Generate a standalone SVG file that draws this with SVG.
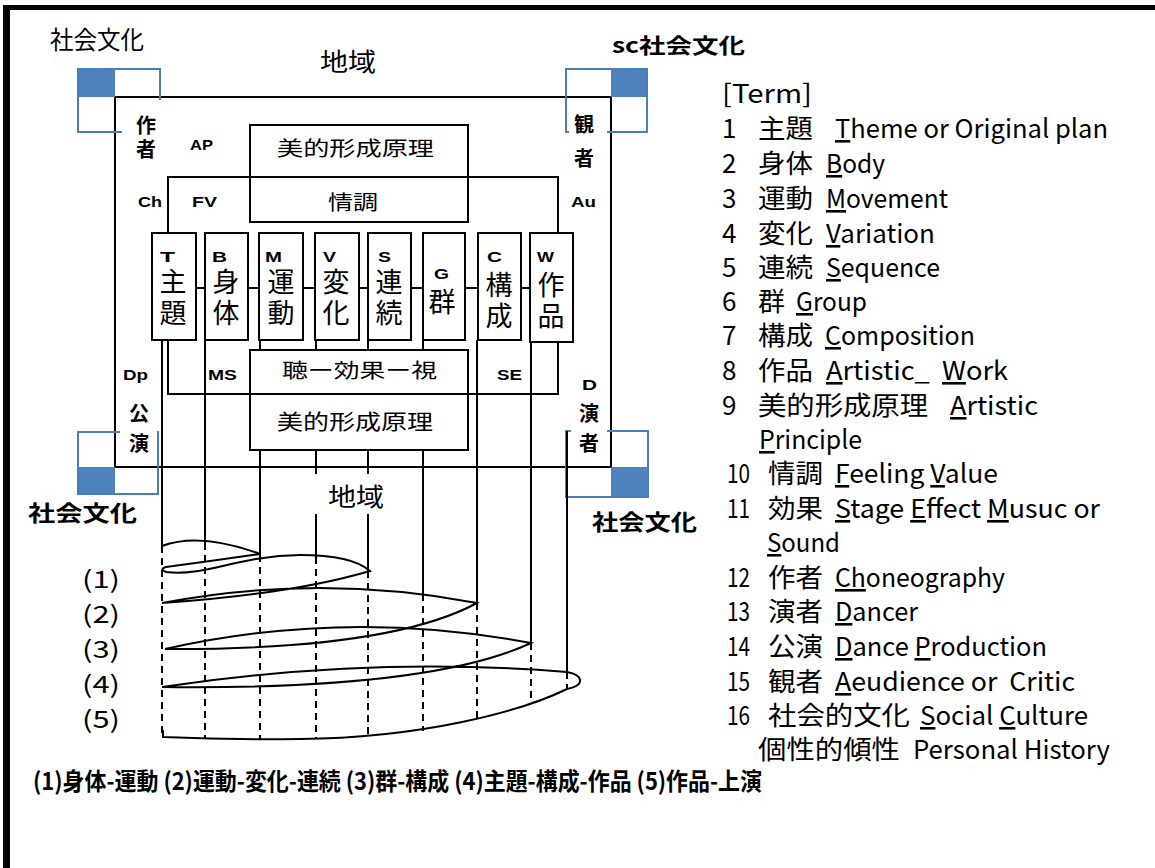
<svg xmlns="http://www.w3.org/2000/svg" width="1155" height="868" viewBox="0 0 1155 868">
<defs>
<style>
.jp{font-family:"Noto Sans CJK JP","Noto Sans",sans-serif;fill:#000}
.b{font-weight:bold}
.lb{font-family:"Liberation Sans",Arial,sans-serif;font-weight:bold;font-size:15px;fill:#000}
.ln{stroke:#000;stroke-width:2;fill:none}
.bx{stroke:#000;stroke-width:2;fill:#fff}
.blue{stroke:#4a7ebb;stroke-width:2;fill:none}
.bf{fill:#4f81bd}
.wh{fill:#fff}
.dash{stroke:#000;stroke-width:2;stroke-dasharray:7 5;fill:none}
.u{text-decoration:underline}
.t{font-family:"Noto Sans CJK JP","Noto Sans",sans-serif;font-size:26px;fill:#000}
.ck{font-family:"Noto Sans CJK JP",sans-serif;font-size:27px;fill:#000;text-anchor:middle}
.cv{font-family:"Noto Sans CJK JP",sans-serif;font-size:27px;fill:#000;writing-mode:vertical-rl;letter-spacing:4px}
.vv{font-family:"Noto Sans CJK JP",sans-serif;font-size:20px;font-weight:bold;fill:#000;writing-mode:vertical-rl}
</style>
</defs>
<rect class="wh" x="0" y="0" width="1155" height="868"/>
<g id="frame">
<rect x="3" y="5" width="1152" height="5" fill="#000"/>
<rect x="3" y="5" width="7" height="863" fill="#000"/>
</g>
<g id="region">
<rect class="bx" x="115" y="97" width="496" height="370"/>
</g>
<g id="corner-tl">
<rect class="bf" x="78" y="69" width="37" height="28"/>
<rect class="blue" x="78" y="69" width="82" height="63"/>
<text class="jp" x="50" y="49" font-size="25" textLength="94" lengthAdjust="spacingAndGlyphs">社会文化</text>
</g>
<g id="corner-tr">
<rect class="bf" x="611" y="69" width="36" height="28"/>
<rect class="blue" x="566" y="69" width="81" height="63"/>
<text class="jp b" x="612" y="53" font-size="21" textLength="133" lengthAdjust="spacingAndGlyphs">sc社会文化</text>
</g>
<g id="corner-bl">
<rect class="bf" x="78" y="467" width="37" height="27"/>
<rect class="blue" x="78" y="432" width="80" height="62"/>
<text class="jp b" x="28" y="521" font-size="22" textLength="109" lengthAdjust="spacingAndGlyphs">社会文化</text>
</g>
<g id="corner-br">
<rect class="bf" x="611" y="467" width="37" height="30"/>
<rect class="blue" x="566" y="431" width="82" height="66"/>
<text class="jp b" x="592" y="530" font-size="22" textLength="105" lengthAdjust="spacingAndGlyphs">社会文化</text>
</g>
<g id="label-covers">
<rect class="wh" x="122" y="100" width="42" height="74"/>
<rect class="wh" x="569" y="100" width="38" height="74"/>
<rect class="wh" x="120" y="398" width="37" height="66"/>
<rect class="wh" x="571" y="398" width="36" height="66"/>
</g>
<g id="chiiki-top">
<text class="jp" x="320" y="71" font-size="25" textLength="56" lengthAdjust="spacingAndGlyphs">地域</text>
</g>
<g id="choreographer">
<text class="vv" x="146" y="115" letter-spacing="4">作者</text>
<text class="lb" x="190" y="150" textLength="23" lengthAdjust="spacingAndGlyphs">AP</text>
<text class="lb" x="138" y="207" textLength="24" lengthAdjust="spacingAndGlyphs">Ch</text>
<text class="lb" x="192" y="207" textLength="25" lengthAdjust="spacingAndGlyphs">FV</text>
</g>
<g id="audience">
<text class="vv" x="584" y="114" letter-spacing="14">観者</text>
<text class="lb" x="571" y="207" textLength="25" lengthAdjust="spacingAndGlyphs">Au</text>
</g>
<g id="production">
<text class="lb" x="123" y="380" textLength="25" lengthAdjust="spacingAndGlyphs">Dp</text>
<text class="vv" x="139" y="403" letter-spacing="10">公演</text>
</g>
<g id="dancer">
<text class="lb" x="582" y="390" textLength="15" lengthAdjust="spacingAndGlyphs">D</text>
<text class="vv" x="589" y="403" letter-spacing="10">演者</text>
</g>
<g id="connectors">
<rect class="ln" x="168" y="177" width="390" height="217"/>
<path class="ln" d="M162,340V546 M205,340V543 M260,340V555 M316,340V557 M368,340V571 M423,340V594 M477,340V603 M531,340V643 M567,431V672"/>
<path class="ln" d="M196,288H205 M248,288H259 M303,288H315 M359,288H368 M411,288H423 M465,288H478 M521,288H530"/>
<path class="dash" d="M162,546V737 M205,543V739 M260,555V739 M316,557V738 M368,571V735 M423,594V731 M477,603V720 M531,643V703 M567,672V689"/>
<path class="ln" d="M162,546 Q200,532 260,554 Q212,561 166,567 Q159,569 166,572 C205,577 236,556 300,555 Q352,555 370,571 Q292,594 162,603 Q320,573 477,603 Q390,650 165,649 Q348,608 531,643 Q430,690 162,687 Q370,656 567,672 C583,675 586,685 567,689 C520,712 420,738 300,739 Q230,740 163,737 L163,730"/>
</g>
<g id="chiiki-bottom">
<rect class="wh" x="308" y="474" width="84" height="40"/>
<text class="jp" x="328" y="506" font-size="25" textLength="56" lengthAdjust="spacingAndGlyphs">地域</text>
</g>
<g id="principle-top">
<rect class="bx" x="250" y="125" width="218" height="52"/>
<text class="jp" x="277" y="156" font-size="20" textLength="157" lengthAdjust="spacingAndGlyphs">美的形成原理</text>
</g>
<g id="feeling">
<rect class="bx" x="250" y="177" width="218" height="45"/>
<text class="jp" x="328" y="210" font-size="20" textLength="50" lengthAdjust="spacingAndGlyphs">情調</text>
</g>
<g id="node-T">
<rect class="bx" x="152" y="233" width="44" height="107"/>
<text class="lb" x="160" y="262" textLength="15" lengthAdjust="spacingAndGlyphs">T</text>
<text class="cv" x="173" y="268">主題</text>
</g>
<g id="node-B">
<rect class="bx" x="205" y="233" width="43" height="107"/>
<text class="lb" x="212" y="262" textLength="15" lengthAdjust="spacingAndGlyphs">B</text>
<text class="cv" x="226" y="268">身体</text>
</g>
<g id="node-M">
<rect class="bx" x="259" y="233" width="44" height="107"/>
<text class="lb" x="265" y="262" textLength="17" lengthAdjust="spacingAndGlyphs">M</text>
<text class="cv" x="281" y="268">運動</text>
</g>
<g id="node-V">
<rect class="bx" x="315" y="233" width="44" height="107"/>
<text class="lb" x="323" y="262" textLength="13" lengthAdjust="spacingAndGlyphs">V</text>
<text class="cv" x="336" y="268">変化</text>
</g>
<g id="node-S">
<rect class="bx" x="368" y="233" width="43" height="107"/>
<text class="lb" x="378" y="262" textLength="13" lengthAdjust="spacingAndGlyphs">S</text>
<text class="cv" x="389" y="268">連続</text>
</g>
<g id="node-G">
<rect class="bx" x="423" y="233" width="42" height="107"/>
<text class="lb" x="434" y="279" textLength="15" lengthAdjust="spacingAndGlyphs">G</text>
<text class="ck" x="442" y="312" font-size="26">群</text>
</g>
<g id="node-C">
<rect class="bx" x="478" y="233" width="43" height="107"/>
<text class="lb" x="487" y="262" textLength="15" lengthAdjust="spacingAndGlyphs">C</text>
<text class="cv" x="499" y="271">構成</text>
</g>
<g id="node-W">
<rect class="bx" x="530" y="233" width="43" height="109"/>
<text class="lb" x="537" y="262" textLength="17" lengthAdjust="spacingAndGlyphs">W</text>
<text class="cv" x="551" y="271">作品</text>
</g>
<g id="effect">
<rect class="bx" x="250" y="350" width="218" height="44"/>
<text class="jp" x="282" y="378" font-size="20" textLength="155" lengthAdjust="spacingAndGlyphs">聴ー効果ー視</text>
<text class="lb" x="208" y="380" textLength="29" lengthAdjust="spacingAndGlyphs">MS</text>
<text class="lb" x="497" y="380" textLength="25" lengthAdjust="spacingAndGlyphs">SE</text>
</g>
<g id="principle-bottom">
<rect class="bx" x="250" y="394" width="218" height="56"/>
<text class="jp" x="277" y="429" font-size="21" textLength="156" lengthAdjust="spacingAndGlyphs">美的形成原理</text>
</g>
<g id="loop-labels" class="jp" font-size="24">
<text x="82" y="588" textLength="38" lengthAdjust="spacingAndGlyphs">(1)</text>
<text x="82" y="623" textLength="38" lengthAdjust="spacingAndGlyphs">(2)</text>
<text x="82" y="658" textLength="38" lengthAdjust="spacingAndGlyphs">(3)</text>
<text x="82" y="693" textLength="38" lengthAdjust="spacingAndGlyphs">(4)</text>
<text x="82" y="728" textLength="38" lengthAdjust="spacingAndGlyphs">(5)</text>
</g>
<g id="terms">
<text class="t" x="722" y="103" textLength="90" lengthAdjust="spacingAndGlyphs">[Term]</text>
<text class="t" x="722" y="138">1</text>
<text class="t" x="758" y="138" textLength="55" lengthAdjust="spacingAndGlyphs">主題</text>
<text class="t" x="835" y="138" textLength="273" lengthAdjust="spacingAndGlyphs"><tspan class="u">T</tspan>heme or Original plan</text>
<text class="t" x="722" y="173">2</text>
<text class="t" x="758" y="173" textLength="55" lengthAdjust="spacingAndGlyphs">身体</text>
<text class="t" x="826" y="173" textLength="59" lengthAdjust="spacingAndGlyphs"><tspan class="u">B</tspan>ody</text>
<text class="t" x="722" y="208">3</text>
<text class="t" x="758" y="208" textLength="55" lengthAdjust="spacingAndGlyphs">運動</text>
<text class="t" x="826" y="208" textLength="122" lengthAdjust="spacingAndGlyphs"><tspan class="u">M</tspan>ovement</text>
<text class="t" x="722" y="243">4</text>
<text class="t" x="758" y="243" textLength="55" lengthAdjust="spacingAndGlyphs">変化</text>
<text class="t" x="826" y="243" textLength="109" lengthAdjust="spacingAndGlyphs"><tspan class="u">V</tspan>ariation</text>
<text class="t" x="722" y="277">5</text>
<text class="t" x="758" y="277" textLength="55" lengthAdjust="spacingAndGlyphs">連続</text>
<text class="t" x="826" y="277" textLength="114" lengthAdjust="spacingAndGlyphs"><tspan class="u">S</tspan>equence</text>
<text class="t" x="722" y="311">6</text>
<text class="t" x="758" y="311" textLength="27" lengthAdjust="spacingAndGlyphs">群</text>
<text class="t" x="796" y="311" textLength="71" lengthAdjust="spacingAndGlyphs"><tspan class="u">G</tspan>roup</text>
<text class="t" x="722" y="345">7</text>
<text class="t" x="758" y="345" textLength="55" lengthAdjust="spacingAndGlyphs">構成</text>
<text class="t" x="825" y="345" textLength="150" lengthAdjust="spacingAndGlyphs"><tspan class="u">C</tspan>omposition</text>
<text class="t" x="722" y="380">8</text>
<text class="t" x="758" y="380" textLength="55" lengthAdjust="spacingAndGlyphs">作品</text>
<text class="t" x="826" y="380" textLength="182" lengthAdjust="spacingAndGlyphs" xml:space="preserve"><tspan class="u">A</tspan>rtistic_  <tspan class="u">W</tspan>ork</text>
<text class="t" x="722" y="415">9</text>
<text class="t" x="758" y="415" textLength="170" lengthAdjust="spacingAndGlyphs">美的形成原理</text>
<text class="t" x="950" y="415" textLength="88" lengthAdjust="spacingAndGlyphs"><tspan class="u">A</tspan>rtistic</text>
<text class="t" x="759" y="449" textLength="103" lengthAdjust="spacingAndGlyphs"><tspan class="u">P</tspan>rinciple</text>
<text class="t" x="727" y="483" textLength="23" lengthAdjust="spacingAndGlyphs">10</text>
<text class="t" x="768" y="483" textLength="55" lengthAdjust="spacingAndGlyphs">情調</text>
<text class="t" x="835" y="483" textLength="163" lengthAdjust="spacingAndGlyphs"><tspan class="u">F</tspan>eeling <tspan class="u">V</tspan>alue</text>
<text class="t" x="727" y="518" textLength="23" lengthAdjust="spacingAndGlyphs">11</text>
<text class="t" x="768" y="518" textLength="55" lengthAdjust="spacingAndGlyphs">効果</text>
<text class="t" x="835" y="518" textLength="265" lengthAdjust="spacingAndGlyphs"><tspan class="u">S</tspan>tage <tspan class="u">E</tspan>ffect <tspan class="u">M</tspan>usuc or</text>
<text class="t" x="767" y="552" textLength="73" lengthAdjust="spacingAndGlyphs"><tspan class="u">S</tspan>ound</text>
<text class="t" x="727" y="587" textLength="23" lengthAdjust="spacingAndGlyphs">12</text>
<text class="t" x="768" y="587" textLength="55" lengthAdjust="spacingAndGlyphs">作者</text>
<text class="t" x="835" y="587" textLength="170" lengthAdjust="spacingAndGlyphs"><tspan class="u">Ch</tspan>oneography</text>
<text class="t" x="727" y="621" textLength="23" lengthAdjust="spacingAndGlyphs">13</text>
<text class="t" x="768" y="621" textLength="55" lengthAdjust="spacingAndGlyphs">演者</text>
<text class="t" x="835" y="621" textLength="83" lengthAdjust="spacingAndGlyphs"><tspan class="u">D</tspan>ancer</text>
<text class="t" x="727" y="656" textLength="23" lengthAdjust="spacingAndGlyphs">14</text>
<text class="t" x="768" y="656" textLength="55" lengthAdjust="spacingAndGlyphs">公演</text>
<text class="t" x="835" y="656" textLength="212" lengthAdjust="spacingAndGlyphs"><tspan class="u">D</tspan>ance <tspan class="u">P</tspan>roduction</text>
<text class="t" x="727" y="691" textLength="23" lengthAdjust="spacingAndGlyphs">15</text>
<text class="t" x="768" y="691" textLength="55" lengthAdjust="spacingAndGlyphs">観者</text>
<text class="t" x="835" y="691" textLength="240" lengthAdjust="spacingAndGlyphs" xml:space="preserve"><tspan class="u">A</tspan>eudience or  Critic</text>
<text class="t" x="727" y="725" textLength="23" lengthAdjust="spacingAndGlyphs">16</text>
<text class="t" x="768" y="725" textLength="142" lengthAdjust="spacingAndGlyphs">社会的文化</text>
<text class="t" x="920" y="725" textLength="168" lengthAdjust="spacingAndGlyphs"><tspan class="u">S</tspan>ocial <tspan class="u">C</tspan>ulture</text>
<text class="t" x="758" y="759" textLength="142" lengthAdjust="spacingAndGlyphs">個性的傾性</text>
<text class="t" x="913" y="759" textLength="197" lengthAdjust="spacingAndGlyphs">Personal History</text>
</g>
<g id="caption">
<text class="jp b" x="33" y="790" font-size="24" textLength="729" lengthAdjust="spacingAndGlyphs">(1)身体-運動 (2)運動-変化-連続 (3)群-構成 (4)主題-構成-作品 (5)作品-上演</text>
</g>
</svg>
